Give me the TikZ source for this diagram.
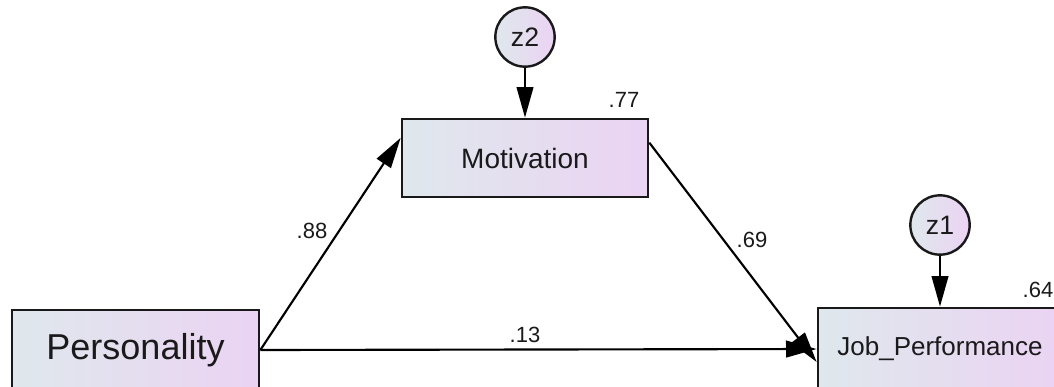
\documentclass[tikz,border=0pt]{standalone}
\usepackage{fontspec}
\setmainfont{Liberation Sans}
\usetikzlibrary{arrows.meta,calc}
\definecolor{gleft}{HTML}{DFE8EC}
\definecolor{gright}{HTML}{EBD3F3}
\definecolor{txt}{HTML}{1A1A1A}
\tikzset{
  obsbox/.style={draw=black!90, line width=2pt, left color=gleft, right color=gright, inner sep=0pt, text=txt},
  errcirc/.style={circle, draw=black!90, line width=1.8pt, left color=gleft, right color=gright, minimum size=44.5pt, inner sep=0pt, text=txt, font=\fontsize{20}{22}\selectfont},
  path/.style={line width=1.6pt, -{Triangle[length=23pt,width=12.5pt]}},
  coef/.style={text=txt, anchor=base, inner sep=0pt, font=\fontsize{16.5}{18}\selectfont}
}
\begin{document}
\begin{tikzpicture}[x=0.75pt,y=-0.75pt]
\useasboundingbox (0,0) rectangle (1054,386);
\clip (0,0) rectangle (1054,386);
\fill[white] (0,0) rectangle (1054,386);
\node[obsbox, minimum width=185.25pt, minimum height=60pt, font=\fontsize{27}{30}\selectfont] (pers) at (135.5,350) {Personality};
\node[obsbox, minimum width=184.5pt, minimum height=58.5pt, font=\fontsize{21}{24}\selectfont] (mot) at (525,158) {Motivation};
\node[obsbox, minimum width=183pt, minimum height=61.5pt, font=\fontsize{19.5}{22}\selectfont] (job) at (940,349) {Job\_Performance};
\node[errcirc] (z2) at (525,37) {z2};
\node[errcirc] (z1) at (940,225) {z1};
\draw[path] (z2) -- (mot.north);
\draw[path] (z1) -- (job.north);
\draw[path] (pers.east) -- ($(mot.north west)!0.25!(mot.south west)$);
\draw[path] ($(mot.north east)!0.31!(mot.south east)$) -- ($(job.west)+(0,13)$);
\draw[path] (pers.east) -- (job.west);
\node[coef] (l88) at (312,238) {.88};
\node[coef] (l69) at (752,247) {.69};
\node[coef] (l13) at (525,342) {.13};
\node[coef] (l77) at (624,107) {.77};
\node[coef] (l64) at (1038,297) {.64};
\end{tikzpicture}
\end{document}
